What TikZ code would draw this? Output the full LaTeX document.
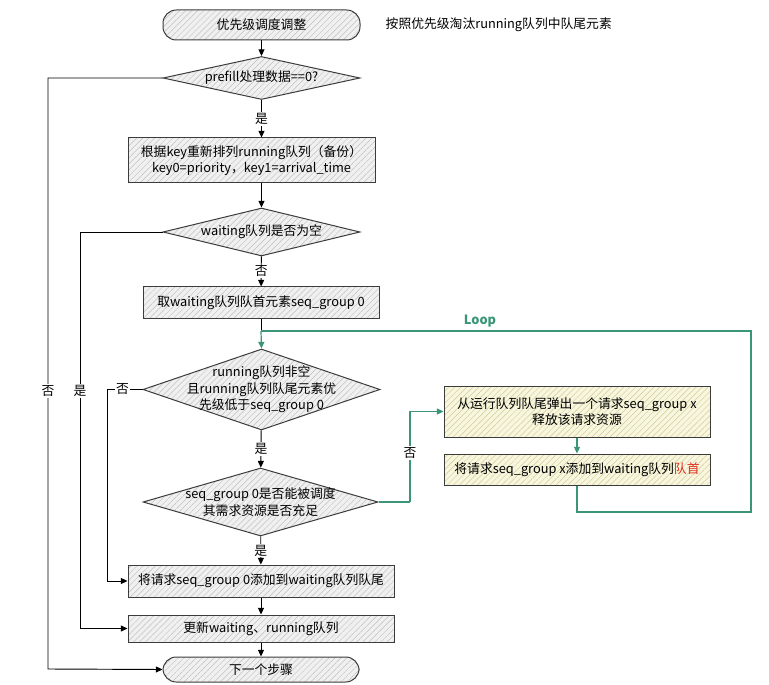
\documentclass[tikz,border=0pt]{standalone}
\usepackage{fontspec}
\setmainfont{Noto Sans CJK SC}
\usepackage{tikz}
\usetikzlibrary{positioning,shapes.geometric,patterns.meta,arrows.meta}

\definecolor{loopgreen}{RGB}{58,150,118}
\definecolor{edgegray}{RGB}{60,60,60}
\definecolor{hatchgray}{RGB}{192,192,192}
\definecolor{basegray}{RGB}{240,240,240}
\definecolor{baseyellow}{RGB}{248,246,222}
\definecolor{hatchyellow}{RGB}{208,204,150}
\definecolor{headred}{RGB}{225,45,30}
\newcommand{\px}{0.75pt}

\tikzset{
    hatch/.style={draw=edgegray, line width=0.75pt, preaction={fill=basegray},
        pattern={Lines[angle=45,distance=3.2pt,line width=0.35pt]}, pattern color=hatchgray},
    yhatch/.style={hatch, preaction={fill=baseyellow}, pattern color=hatchyellow},
    term/.style={hatch, rectangle, rounded corners=10pt, inner sep=0pt},
    proc/.style={hatch, rectangle, inner sep=0pt, align=center},
    ybox/.style={yhatch, rectangle, inner sep=0pt, align=center},
    dec/.style={hatch, diamond, inner sep=0pt},
    arrow/.style={draw=black, line width=0.7pt, -{Triangle[length=5pt,width=4.5pt]}},
    garrow/.style={draw=loopgreen, line width=0.9pt, -{Triangle[length=5pt,width=4.5pt]}},
    gline/.style={draw=loopgreen, line width=0.9pt},
    lbl/.style={fill=white, inner sep=1pt}
}

\begin{document}
\begin{tikzpicture}[x=\px, y=-\px, font=\fontsize{9.6}{12.5}\selectfont]
        \useasboundingbox[fill=white] (0,0) rectangle (769,685);

        % main column
        \node[term, minimum width=197*\px, minimum height=30*\px] (T1) at (261.5,25) {优先级调度调整};
        \node[anchor=west] (note) at (381,25) {按照优先级淘汰running队列中队尾元素};
        \node[dec, minimum width=197*\px, minimum height=43*\px,
            label={center:prefill处理数据==0?}] (D1) at (261.5,78) {};
        \node[proc, minimum width=247*\px, minimum height=45*\px] (B2) at (251.5,160.5)
            {根据key重新排列running队列（备份）\\ key0=priority，key1=arrival\_time};
        \node[dec, minimum width=197*\px, minimum height=48*\px,
            label={center:waiting队列是否为空}] (D3) at (261.5,232) {};
        \node[proc, minimum width=236*\px, minimum height=31*\px] (B4) at (261,302.5)
            {取waiting队列队首元素seq\_group 0};
        \node[dec, minimum width=237*\px, minimum height=81*\px,
            label={[align=center]center:running队列非空\\ 且running队列队尾元素优\\ 先级低于seq\_group 0}] (D5) at (261.5,389.5) {};
        \node[dec, minimum width=235*\px, minimum height=68*\px,
            label={[align=center]center:seq\_group 0是否能被调度\\ 其需求资源是否充足}] (D6) at (260.5,502) {};
        \node[proc, minimum width=266*\px, minimum height=32*\px] (B9) at (261,581)
            {将请求seq\_group 0添加到waiting队列队尾};
        \node[proc, minimum width=266*\px, minimum height=27*\px] (B10) at (261,628.5)
            {更新waiting、running队列};
        \node[term, minimum width=196*\px, minimum height=25*\px] (T11) at (261,669.5) {下一个步骤};

        % loop branch
        \node[ybox, minimum width=266*\px, minimum height=51*\px] (B7) at (577,411.5)
            {从运行队列队尾弹出一个请求seq\_group x\\ 释放该请求资源};
        \node[ybox, minimum width=266*\px, minimum height=31*\px] (B8) at (577,469.5)
            {将请求seq\_group x添加到waiting队列\textcolor{headred}{队首}};

        \coordinate (J) at (261,331);
        \coordinate (G1) at (751,512);
        \coordinate (G2) at (751,331);
        \coordinate (N1) at (410,502);
        \coordinate (L1) at (48,669);
        \coordinate (L2) at (80,628.5);
        \coordinate (L3) at (107,581);

        % straight arrows
        \draw[arrow] (T1) -- (D1);
        \draw[arrow] (D1.south) -- node[lbl]{是} (D1.south |- B2.north);
        \draw[arrow] (D3.north |- B2.south) -- (D3.north);
        \draw[arrow] (D3) -- node[lbl]{否} (B4);
        \draw[black, line width=0.7pt] (B4.south) -- (J);
        \draw[garrow] (J) -- (D5.north);
        \draw[arrow] (D5) -- node[lbl]{是} (D6);
        \draw[arrow] (D6) -- node[lbl]{是} (B9);
        \draw[arrow] (B9) -- (B10);
        \draw[arrow] (B10) -- (T11);

        % side branches
        \draw[arrow] (D1.west) -| node[lbl, pos=0.765]{否} (L1) -- (T11.west);
        \draw[arrow] (D3.west) -| node[lbl, pos=0.70]{是} (L2) -- (B10.west);
        \draw[arrow] (D5.west) -| node[lbl, pos=0.28]{否} (L3) -- (B9.west);

        % green loop
        \draw[gline] (D6.east) -- (N1);
        \draw[garrow] (N1) |- node[lbl, pos=0.27]{否} (B7.west);
        \draw[garrow] (B7) -- (B8);
        \draw[gline] (B8.south) |- (G1) -- (G2) -- (J);
        \node[text=loopgreen, font=\fontsize{9.6}{12.5}\selectfont\bfseries] (loop) at (480,321) {Loop};
    \end{tikzpicture}
\end{document}
